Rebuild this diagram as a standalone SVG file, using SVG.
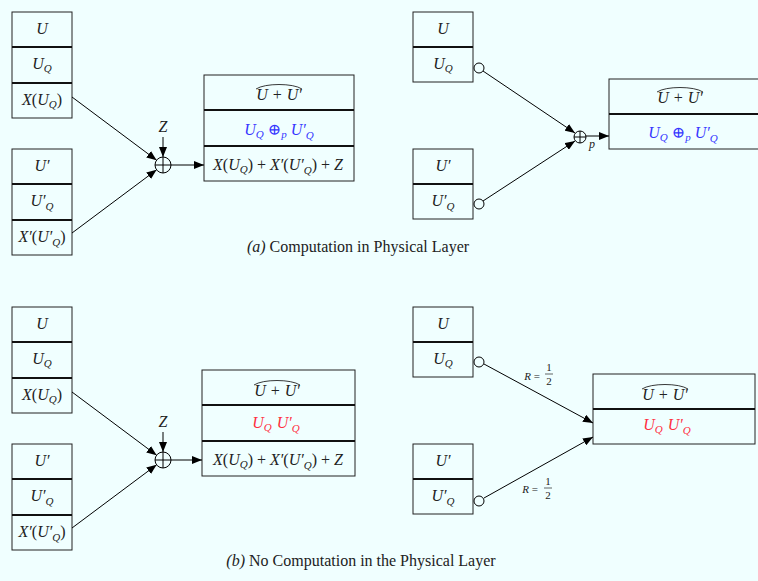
<svg xmlns="http://www.w3.org/2000/svg" width="758" height="581" viewBox="0 0 758 581">
<defs>
<marker id="ah" markerWidth="10" markerHeight="8" refX="10" refY="4" orient="auto" markerUnits="userSpaceOnUse"><path d="M0,0 L10,4 L0,8 z" fill="#000"/></marker>
<style>
.cell{fill:none;stroke:#222;stroke-width:1}
.dv{stroke:#111;stroke-width:2}
.t{font-family:"Liberation Serif","DejaVu Serif",serif;font-size:16px;fill:#222;text-anchor:middle}
.i{font-style:italic}
.s{font-size:11px}
.blue{fill:#3636ff}
.red{fill:#ff2f3f}
.c{fill:none;stroke:#000;stroke-width:1}
.hat{fill:none;stroke:#222;stroke-width:0.9}
.ln{fill:none;stroke:#000;stroke-width:1;marker-end:url(#ah)}
.cap{font-family:"Liberation Serif","DejaVu Serif",serif;font-size:16px;fill:#222;text-anchor:middle}
.r{font-family:"Liberation Serif","DejaVu Serif",serif;font-size:11px;fill:#222;text-anchor:middle}
</style>
</defs>
<rect width="758" height="581" fill="#f0ffff"/>

<!-- (a) left -->
<g id="a-stack1">
<rect class="cell" x="12" y="12" width="60" height="106"/>
<line class="dv" x1="12" y1="47" x2="72" y2="47"/><line class="dv" x1="12" y1="83" x2="72" y2="83"/>
<text class="t i" x="42" y="34">U</text>
<text class="t" x="42" y="69"><tspan class="i">U</tspan><tspan class="i s" dy="3">Q</tspan></text>
<text class="t" x="42" y="105"><tspan class="i">X</tspan>(<tspan class="i">U</tspan><tspan class="i s" dy="3">Q</tspan><tspan dy="-3">)</tspan></text>
</g>
<g id="a-stack2">
<rect class="cell" x="12" y="149" width="60" height="106"/>
<line class="dv" x1="12" y1="184" x2="72" y2="184"/><line class="dv" x1="12" y1="220" x2="72" y2="220"/>
<text class="t i" x="42" y="171">U′</text>
<text class="t" x="42" y="206"><tspan class="i">U′</tspan><tspan class="i s" dy="4">Q</tspan></text>
<text class="t" x="42" y="242"><tspan class="i">X′</tspan>(<tspan class="i">U′</tspan><tspan class="i s" dy="4">Q</tspan><tspan dy="-4">)</tspan></text>
</g>
<g id="a-adder">
<circle class="c" cx="163" cy="165" r="8"/>
<line class="c" x1="155" y1="165" x2="171" y2="165"/><line class="c" x1="163" y1="157" x2="163" y2="173"/>
<text class="t i" x="163" y="132">Z</text>
</g>
<g id="a-out">
<rect class="cell" x="204" y="75" width="150" height="106"/>
<line class="dv" x1="204" y1="110" x2="354" y2="110"/><line class="dv" x1="204" y1="146" x2="354" y2="146"/>
<path class="hat" d="M256,89 C265,83 293,83 302,89"/>
<text class="t i" x="279" y="100">U + U′</text>
<text class="t blue" x="279" y="135"><tspan class="i">U</tspan><tspan class="i s" dy="3">Q</tspan><tspan dy="-3"> ⊕</tspan><tspan class="i s" dy="3">p</tspan><tspan class="i" dy="-3"> U′</tspan><tspan class="i s" dy="4">Q</tspan></text>
<text class="t" x="278" y="170"><tspan class="i">X</tspan>(<tspan class="i">U</tspan><tspan class="i s" dy="3">Q</tspan><tspan dy="-3">)</tspan><tspan dx="4">+</tspan><tspan class="i" dx="4">X′</tspan>(<tspan class="i">U′</tspan><tspan class="i s" dy="4">Q</tspan><tspan dy="-4">)</tspan><tspan dx="4">+</tspan><tspan class="i" dx="4">Z</tspan></text>
</g>

<!-- (a) right -->
<g id="a-stack3">
<rect class="cell" x="413" y="12" width="60" height="70"/>
<line class="dv" x1="413" y1="47" x2="473" y2="47"/>
<text class="t i" x="443" y="34">U</text>
<text class="t" x="443" y="69"><tspan class="i">U</tspan><tspan class="i s" dy="3">Q</tspan></text>
<circle class="c" cx="479" cy="68" r="5" fill="#fff"/>
</g>
<g id="a-stack4">
<rect class="cell" x="413" y="149" width="60" height="70"/>
<line class="dv" x1="413" y1="184" x2="473" y2="184"/>
<text class="t i" x="443" y="171">U′</text>
<text class="t" x="443" y="206"><tspan class="i">U′</tspan><tspan class="i s" dy="4">Q</tspan></text>
<circle class="c" cx="479" cy="204" r="5" fill="#fff"/>
</g>
<g id="a-padder">
<circle class="c" cx="580" cy="137" r="6"/>
<line class="c" x1="574" y1="137" x2="586" y2="137"/><line class="c" x1="580" y1="131" x2="580" y2="143"/>
<text class="t i" x="592" y="148" style="font-size:12px">p</text>
</g>
<g id="a-out2">
<rect class="cell" x="609" y="79" width="160" height="70"/>
<line class="dv" x1="609" y1="114" x2="769" y2="114"/>
<path class="hat" d="M657,92 C666,86 694,86 703,92"/>
<text class="t i" x="680" y="103">U + U′</text>
<text class="t blue" x="683" y="138"><tspan class="i">U</tspan><tspan class="i s" dy="3">Q</tspan><tspan dy="-3"> ⊕</tspan><tspan class="i s" dy="3">p</tspan><tspan class="i" dy="-3"> U′</tspan><tspan class="i s" dy="4">Q</tspan></text>
</g>

<text class="cap" x="358" y="252"><tspan font-style="italic">(a)</tspan> Computation in Physical Layer</text>

<!-- (b) left -->
<g id="b-stack1">
<rect class="cell" x="12" y="307" width="60" height="106"/>
<line class="dv" x1="12" y1="342" x2="72" y2="342"/><line class="dv" x1="12" y1="378" x2="72" y2="378"/>
<text class="t i" x="42" y="329">U</text>
<text class="t" x="42" y="364"><tspan class="i">U</tspan><tspan class="i s" dy="3">Q</tspan></text>
<text class="t" x="42" y="400"><tspan class="i">X</tspan>(<tspan class="i">U</tspan><tspan class="i s" dy="3">Q</tspan><tspan dy="-3">)</tspan></text>
</g>
<g id="b-stack2">
<rect class="cell" x="12" y="444" width="60" height="106"/>
<line class="dv" x1="12" y1="479" x2="72" y2="479"/><line class="dv" x1="12" y1="515" x2="72" y2="515"/>
<text class="t i" x="42" y="466">U′</text>
<text class="t" x="42" y="501"><tspan class="i">U′</tspan><tspan class="i s" dy="4">Q</tspan></text>
<text class="t" x="42" y="537"><tspan class="i">X′</tspan>(<tspan class="i">U′</tspan><tspan class="i s" dy="4">Q</tspan><tspan dy="-4">)</tspan></text>
</g>
<g id="b-adder">
<circle class="c" cx="163" cy="460" r="8"/>
<line class="c" x1="155" y1="460" x2="171" y2="460"/><line class="c" x1="163" y1="452" x2="163" y2="468"/>
<text class="t i" x="163" y="427">Z</text>
</g>
<g id="b-out">
<rect class="cell" x="202" y="370" width="153" height="106"/>
<line class="dv" x1="202" y1="405" x2="355" y2="405"/><line class="dv" x1="202" y1="441" x2="355" y2="441"/>
<path class="hat" d="M254,385 C263,379 291,379 300,385"/>
<text class="t i" x="277" y="396">U + U′</text>
<text class="t red" x="276" y="428"><tspan class="i">U</tspan><tspan class="i s" dy="3">Q</tspan><tspan class="i" dx="5" dy="-3">U′</tspan><tspan class="i s" dy="4">Q</tspan></text>
<text class="t" x="278" y="465"><tspan class="i">X</tspan>(<tspan class="i">U</tspan><tspan class="i s" dy="3">Q</tspan><tspan dy="-3">)</tspan><tspan dx="4">+</tspan><tspan class="i" dx="4">X′</tspan>(<tspan class="i">U′</tspan><tspan class="i s" dy="4">Q</tspan><tspan dy="-4">)</tspan><tspan dx="4">+</tspan><tspan class="i" dx="4">Z</tspan></text>
</g>

<!-- (b) right -->
<g id="b-stack3">
<rect class="cell" x="413" y="307" width="60" height="70"/>
<line class="dv" x1="413" y1="342" x2="473" y2="342"/>
<text class="t i" x="443" y="329">U</text>
<text class="t" x="443" y="364"><tspan class="i">U</tspan><tspan class="i s" dy="3">Q</tspan></text>
<circle class="c" cx="479" cy="362" r="5" fill="#fff"/>
</g>
<g id="b-stack4">
<rect class="cell" x="413" y="444" width="60" height="70"/>
<line class="dv" x1="413" y1="479" x2="473" y2="479"/>
<text class="t i" x="443" y="466">U′</text>
<text class="t" x="443" y="501"><tspan class="i">U′</tspan><tspan class="i s" dy="4">Q</tspan></text>
<circle class="c" cx="479" cy="501" r="5" fill="#fff"/>
</g>
<g id="b-out2">
<rect class="cell" x="593" y="374" width="162" height="70"/>
<line class="dv" x1="593" y1="409" x2="755" y2="409"/>
<path class="hat" d="M642,389 C651,383 679,383 688,389"/>
<text class="t i" x="665" y="400">U + U′</text>
<text class="t red" x="667" y="430"><tspan class="i">U</tspan><tspan class="i s" dy="3">Q</tspan><tspan class="i" dx="5" dy="-3">U′</tspan><tspan class="i s" dy="4">Q</tspan></text>
</g>

<text class="cap" x="361" y="566"><tspan font-style="italic">(b)</tspan> No Computation in the Physical Layer</text>

<g id="connectors">
<line class="ln" x1="72" y1="97" x2="156.6" y2="160.2"/>
<line class="ln" x1="72" y1="233" x2="156.6" y2="169.8"/>
<line class="ln" x1="163" y1="137" x2="163" y2="157"/>
<line class="ln" x1="171" y1="165" x2="204" y2="165"/>
<line class="ln" x1="483" y1="71" x2="575" y2="133"/>
<line class="ln" x1="483" y1="201" x2="575" y2="141"/>
<line class="ln" x1="586" y1="136" x2="609" y2="136"/>
<line class="ln" x1="72" y1="392" x2="156.6" y2="455.2"/>
<line class="ln" x1="72" y1="528" x2="156.6" y2="464.8"/>
<line class="ln" x1="163" y1="432" x2="163" y2="452"/>
<line class="ln" x1="171" y1="460" x2="202" y2="460"/>
<line class="ln" x1="484" y1="364" x2="593" y2="423"/>
<line class="ln" x1="484" y1="498" x2="593" y2="437"/>
<text class="r" x="532" y="380"><tspan font-style="italic">R</tspan> =</text>
<text class="r" x="549" y="371">1</text><line x1="545" y1="374" x2="553" y2="374" stroke="#222" stroke-width="0.7"/><text class="r" x="549" y="385">2</text>
<text class="r" x="530" y="493"><tspan font-style="italic">R</tspan> =</text>
<text class="r" x="548" y="485">1</text><line x1="544" y1="488" x2="552" y2="488" stroke="#222" stroke-width="0.7"/><text class="r" x="548" y="499">2</text>
</g>
</svg>
